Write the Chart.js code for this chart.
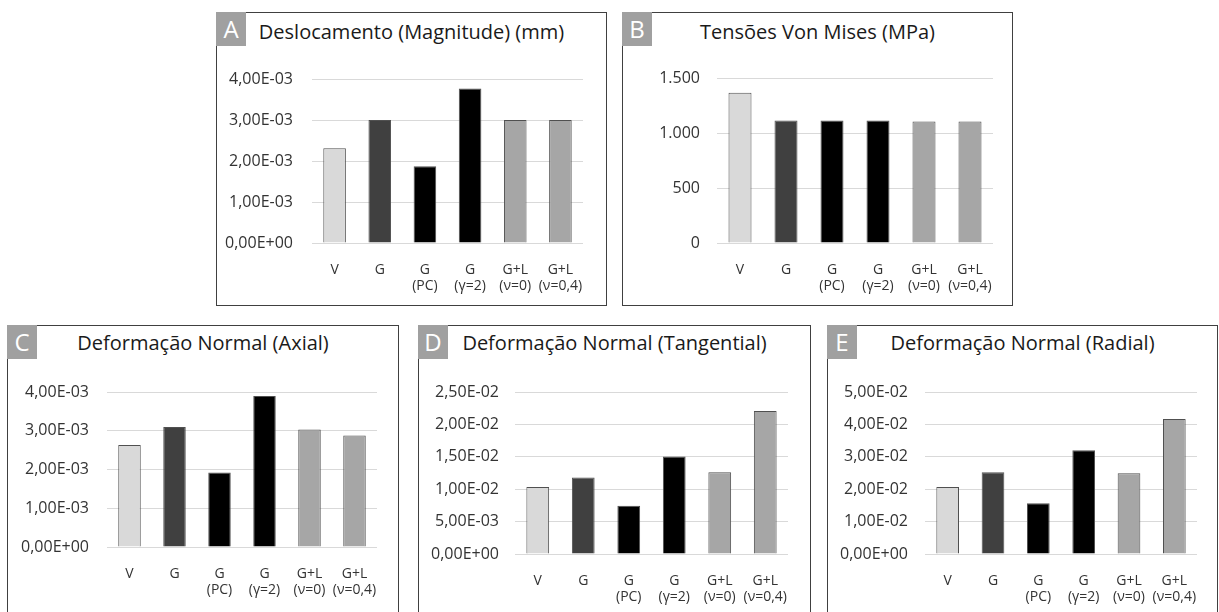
<!DOCTYPE html>
<html>
<head>
<meta charset="utf-8">
<script src="https://cdn.jsdelivr.net/npm/chart.js@4.4.1/dist/chart.umd.min.js"></script>
<style>
  body { margin: 0; background: #fff; }
  #page { position: relative; width: 1219px; height: 612px; overflow: hidden; font-family: 'Open Sans', sans-serif; }
  .box { position: absolute; border: 1px solid #404040; box-sizing: border-box; background: #fff; }
  .tag { position: absolute; width: 30px; height: 34px; background: #a0a0a0; color: #fff;
         font-size: 24px; line-height: 34px; text-align: center; }
  .title { position: absolute; font-size: 20px; line-height: 20px; color: #1a1a1a; text-align: center; white-space: nowrap; }
  .wrap { position: absolute; }
</style>
</head>
<body>
<div id="page"></div>
<script>
// categories shared by all five charts
const categories = [['V'], ['G'], ['G', '(PC)'], ['G', '(γ=2)'], ['G+L', '(ν=0)'], ['G+L', '(ν=0,4)']];
const barColors = ['#d9d9d9', '#404040', '#000000', '#000000', '#a6a6a6', '#a6a6a6'];

// series values
const deslocamento = [2.31e-3, 3.00e-3, 1.87e-3, 3.77e-3, 3.00e-3, 3.00e-3];
const vonMises = [1365, 1113, 1113, 1113, 1105, 1105];
const axial = [2.63e-3, 3.10e-3, 1.92e-3, 3.90e-3, 3.03e-3, 2.88e-3];
const tangencial = [1.034e-2, 1.18e-2, 7.45e-3, 1.506e-2, 1.26e-2, 2.207e-2];
const radial = [2.07e-2, 2.52e-2, 1.57e-2, 3.20e-2, 2.49e-2, 4.17e-2];

// y tick labels, bottom to top
const ticksA = ['0,00E+00', '1,00E-03', '2,00E-03', '3,00E-03', '4,00E-03'];
const ticksB = ['0', '500', '1.000', '1.500'];
const ticksC = ['0,00E+00', '1,00E-03', '2,00E-03', '3,00E-03', '4,00E-03'];
const ticksD = ['0,00E+00', '5,00E-03', '1,00E-02', '1,50E-02', '2,00E-02', '2,50E-02'];
const ticksE = ['0,00E+00', '1,00E-02', '2,00E-02', '3,00E-02', '4,00E-02', '5,00E-02'];

Chart.defaults.font.family = "'Open Sans', sans-serif";
Chart.defaults.color = '#333333';

const page = document.getElementById('page');

function panel(p) {
  const box = document.createElement('div');
  box.className = 'box';
  Object.assign(box.style, { left: p.box[0] + 'px', top: p.box[1] + 'px', width: p.box[2] + 'px', height: p.box[3] + 'px' });
  page.appendChild(box);

  const tag = document.createElement('div');
  tag.className = 'tag';
  tag.textContent = p.tag;
  tag.style.left = p.box[0] + 'px';
  tag.style.top = p.box[1] + 'px';
  page.appendChild(tag);

  const title = document.createElement('div');
  title.className = 'title';
  title.textContent = p.title;
  Object.assign(title.style, { left: p.box[0] + 'px', width: p.box[2] + 'px', top: p.titleTop + 'px' });
  page.appendChild(title);

  const wrap = document.createElement('div');
  wrap.className = 'wrap';
  const W = p.box[2], H = p.box[3];
  Object.assign(wrap.style, { left: p.box[0] + 'px', top: p.box[1] + 'px', width: W + 'px', height: H + 'px' });
  const cv = document.createElement('canvas');
  wrap.appendChild(cv);
  page.appendChild(wrap);

  const [pl, pr, pt, pb] = p.plot;
  new Chart(cv, {
    type: 'bar',
    data: {
      labels: categories,
      datasets: [{
        data: p.values,
        backgroundColor: barColors,
        borderColor: '#505050',
        borderWidth: 1,
        barPercentage: 0.5,
        categoryPercentage: 1
      }]
    },
    options: {
      responsive: true,
      maintainAspectRatio: false,
      animation: false,
      layout: { padding: { left: 0, top: pt - p.box[1], right: p.box[0] + W - pr, bottom: 0 } },
      plugins: { legend: { display: false }, tooltip: { enabled: false } },
      scales: {
        x: {
          grid: { display: false },
          border: { display: false },
          ticks: { font: { size: 14, lineHeight: '16px' }, padding: 11, maxRotation: 0, autoSkip: false },
          afterFit: s => { s.height = p.box[1] + H - pb; }
        },
        y: {
          min: 0,
          max: p.step * (p.ticks.length - 1),
          grid: { color: '#d9d9d9', drawTicks: false },
          border: { display: false },
          ticks: { font: { size: 16 }, padding: p.gap, callback: (v, i) => p.ticks[i] },
          afterBuildTicks: s => { s.ticks = p.ticks.map((t, i) => ({ value: i * p.step })); },
          afterFit: s => { s.width = pl - p.box[0]; }
        }
      }
    }
  });
}

panel({ tag: 'A', title: 'Deslocamento (Magnitude) (mm)', box: [216, 12, 391, 294], titleTop: 22,
        plot: [312, 583, 79, 243], gap: 19, values: deslocamento, ticks: ticksA, step: 1e-3 });
panel({ tag: 'B', title: 'Tensões Von Mises (MPa)', box: [622, 12, 391, 294], titleTop: 22,
        plot: [717, 993, 78, 243], gap: 17, values: vonMises, ticks: ticksB, step: 500 });
panel({ tag: 'C', title: 'Deformação Normal (Axial)', box: [7, 325, 392, 300], titleTop: 332.5,
        plot: [107, 377, 392, 547], gap: 18, values: axial, ticks: ticksC, step: 1e-3 });
panel({ tag: 'D', title: 'Deformação Normal (Tangential)', box: [418, 325, 393, 300], titleTop: 332.5,
        plot: [515, 788, 392, 554], gap: 16, values: tangencial, ticks: ticksD, step: 5e-3 });
panel({ tag: 'E', title: 'Deformação Normal (Radial)', box: [827, 325, 391, 300], titleTop: 332.5,
        plot: [925, 1197, 392, 554], gap: 17, values: radial, ticks: ticksE, step: 1e-2 });
</script>
</body>
</html>
